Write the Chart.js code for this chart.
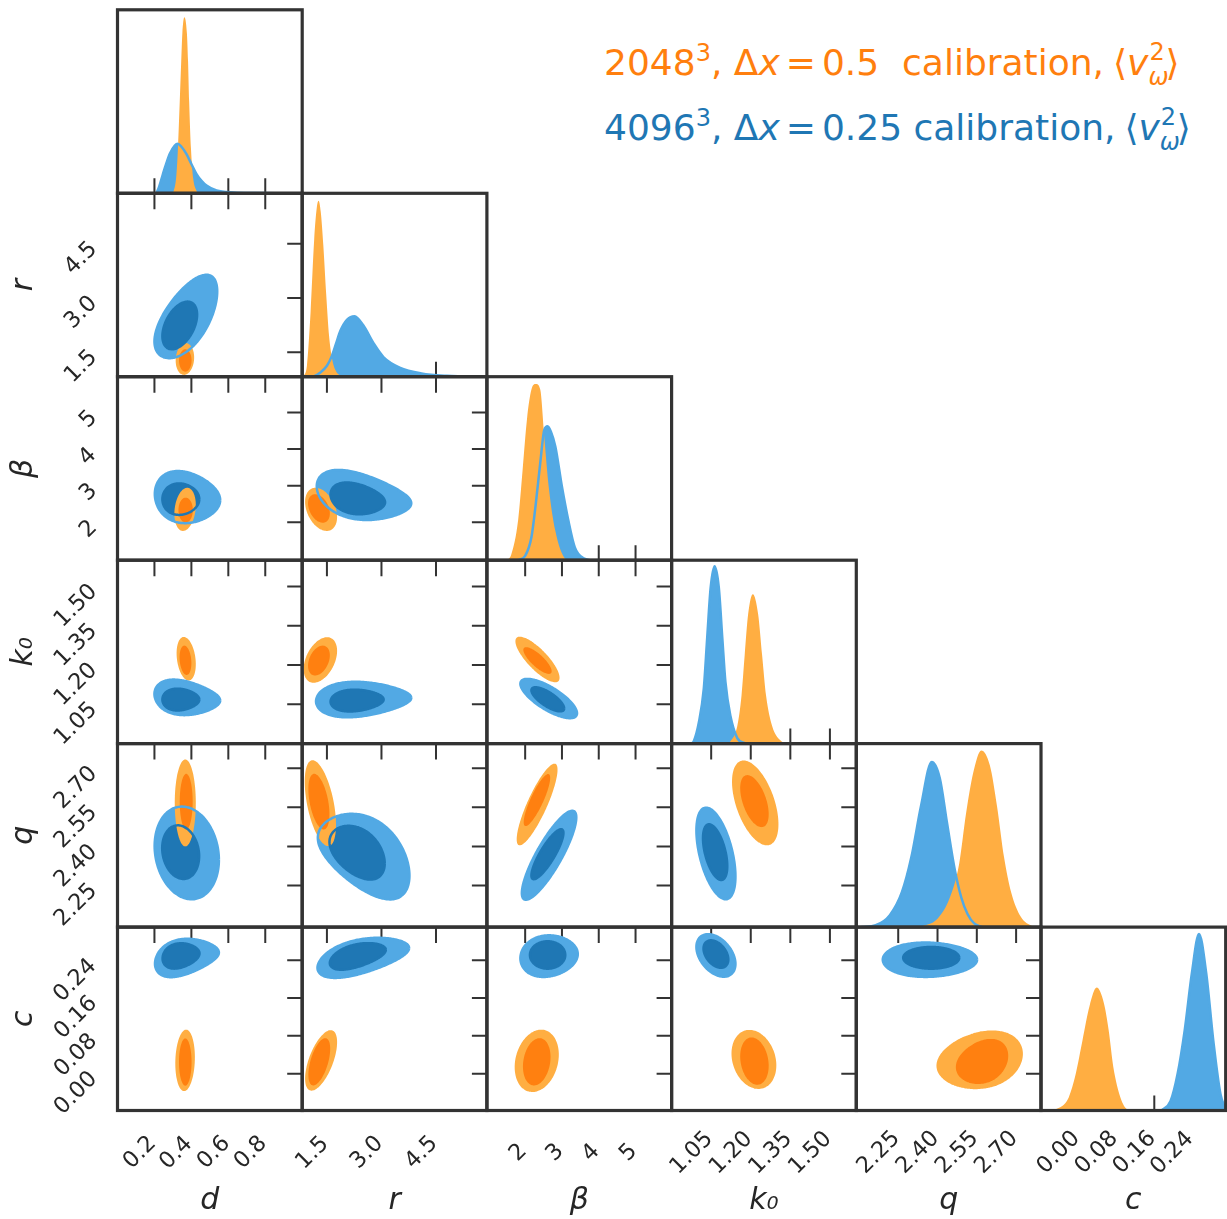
<!DOCTYPE html>
<html>
<head>
<meta charset="utf-8">
<script src="https://cdn.jsdelivr.net/npm/chart.js@4.4.0/dist/chart.umd.min.js"></script>
<style>
html, body { margin: 0; padding: 0; background: #ffffff; }
#wrap { position: relative; width: 1227px; height: 1219px; overflow: hidden; background: #ffffff; }
#wrap canvas { position: absolute; }
.leg { position: absolute; left: 604px; font-family: 'DejaVu Sans'; font-size: 36px; line-height: 36px; white-space: pre; }
.leg i { font-style: italic; }
.sup { font-size: 24px; line-height: 0; position: relative; top: -14px; }
.eq { margin: 0 6px; }
.lang { margin-left: 9px; }
.st { display: inline-block; position: relative; width: 17px; height: 0; line-height: 0; }
.s2 { position: absolute; left: 1px; top: -23px; font-size: 24px; line-height: 0; font-style: normal; }
.sw { position: absolute; left: 0px; top: 2px; font-size: 24px; line-height: 0; font-style: italic; }
</style>
</head>
<body>
<div id="wrap">
  <div class="leg" style="top:44.5px;color:#ff7f0e">2048<span class="sup">3</span>, Δ<i>x</i><span class="eq">=</span>0.5  calibration,<span class="lang">⟨</span><i>v</i><span class="st"><span class="s2">2</span><span class="sw">ω</span></span>⟩</div>
  <div class="leg" style="top:109.5px;color:#1f77b4">4096<span class="sup">3</span>, Δ<i>x</i><span class="eq">=</span>0.25 calibration,<span class="lang">⟨</span><i>v</i><span class="st"><span class="s2">2</span><span class="sw">ω</span></span>⟩</div>
</div>
<script>
// ===================== DATA =====================
const paramKeys   = ['d', 'r', 'beta', 'k0', 'q', 'c'];
const axisTitles  = ['d', 'r', 'β', 'k₀', 'q', 'c'];
const axisMin     = [0.0, 0.82, 0.96, 0.90, 2.09, -0.078];
const axisMax     = [1.0, 5.90, 5.98, 1.60, 2.795, 0.31];
const tickValues  = [[0.2, 0.4, 0.6, 0.8], [1.5, 3.0, 4.5], [2, 3, 4, 5], [1.05, 1.20, 1.35, 1.50], [2.25, 2.40, 2.55, 2.70], [0.00, 0.08, 0.16, 0.24]];
const tickLabels  = [['0.2', '0.4', '0.6', '0.8'], ['1.5', '3.0', '4.5'], ['2', '3', '4', '5'], ['1.05', '1.20', '1.35', '1.50'], ['2.25', '2.40', '2.55', '2.70'], ['0.00', '0.08', '0.16', '0.24']];

// 1D marginals (x values, relative heights as fraction of panel height)
const d_orange_x = [0.295, 0.305, 0.318, 0.328, 0.337, 0.345, 0.351, 0.362, 0.376, 0.382, 0.388, 0.398, 0.41, 0.427, 0.44];
const d_orange_h = [0, 0.015, 0.09, 0.26, 0.5, 0.72, 0.87, 0.96, 0.87, 0.72, 0.5, 0.24, 0.08, 0.015, 0];
const d_blue_x   = [0.21, 0.225, 0.246, 0.265, 0.283, 0.31, 0.326, 0.345, 0.373, 0.40, 0.428, 0.455, 0.482, 0.536, 0.627, 0.75, 0.9, 1.0];
const d_blue_h   = [0, 0.035, 0.105, 0.165, 0.215, 0.26, 0.27, 0.255, 0.215, 0.16, 0.105, 0.068, 0.042, 0.015, 0.004, 0.001, 0.0003, 0];

const r_orange_x = [0.85, 0.95, 1.05, 1.15, 1.22, 1.27, 1.33, 1.40, 1.48, 1.56, 1.65, 1.75, 1.9, 2.0];
const r_orange_h = [0.0, 0.06, 0.35, 0.75, 0.92, 0.96, 0.9, 0.72, 0.45, 0.22, 0.09, 0.03, 0.005, 0];
const r_blue_x   = [1.05, 1.15, 1.3, 1.5, 1.64, 1.75, 1.87, 2.05, 2.26, 2.5, 2.79, 3.06, 3.5, 4.1, 4.8, 5.9];
const r_blue_h   = [0, 0.003, 0.02, 0.06, 0.115, 0.18, 0.25, 0.31, 0.33, 0.28, 0.18, 0.106, 0.05, 0.018, 0.005, 0];

const beta_orange_x = [1.5, 1.62, 1.81, 1.93, 2.05, 2.17, 2.29, 2.41, 2.52, 2.64, 2.82, 3.06, 3.2];
const beta_orange_h = [0, 0.03, 0.22, 0.49, 0.77, 0.93, 0.96, 0.93, 0.67, 0.40, 0.16, 0.015, 0];
const beta_blue_x   = [1.8, 2.0, 2.17, 2.29, 2.41, 2.52, 2.61, 2.7, 2.82, 3.0, 3.17, 3.35, 3.59, 3.8];
const beta_blue_h   = [0, 0.024, 0.125, 0.31, 0.53, 0.71, 0.73, 0.70, 0.62, 0.40, 0.22, 0.07, 0.01, 0];

const k0_orange_x = [1.11, 1.123, 1.149, 1.165, 1.177, 1.19, 1.208, 1.228, 1.243, 1.258, 1.281, 1.312, 1.344];
const k0_orange_h = [0, 0.013, 0.096, 0.262, 0.483, 0.705, 0.815, 0.705, 0.483, 0.262, 0.096, 0.018, 0];
const k0_blue_x   = [0.975, 0.984, 1.003, 1.022, 1.035, 1.048, 1.063, 1.079, 1.092, 1.104, 1.123, 1.149, 1.18];
const k0_blue_h   = [0, 0.013, 0.114, 0.30, 0.58, 0.85, 0.967, 0.85, 0.58, 0.336, 0.15, 0.03, 0];

const q_orange_x = [2.33, 2.40, 2.446, 2.482, 2.509, 2.536, 2.567, 2.60, 2.627, 2.654, 2.681, 2.718, 2.763, 2.78];
const q_orange_h = [0, 0.046, 0.157, 0.34, 0.62, 0.84, 0.963, 0.88, 0.66, 0.38, 0.19, 0.056, 0.005, 0];
const q_blue_x   = [2.11, 2.164, 2.218, 2.264, 2.30, 2.337, 2.378, 2.409, 2.436, 2.465, 2.491, 2.515, 2.54, 2.57];
const q_blue_h   = [0, 0.01, 0.065, 0.19, 0.38, 0.66, 0.90, 0.81, 0.57, 0.32, 0.16, 0.07, 0.02, 0];

const c_orange_x = [-0.07, -0.04, -0.02, -0.005, 0.009, 0.024, 0.039, 0.054, 0.064, 0.074, 0.089, 0.104, 0.115];
const c_orange_h = [0, 0.015, 0.07, 0.2, 0.38, 0.57, 0.67, 0.586, 0.44, 0.236, 0.07, 0.005, 0];
const c_blue_x   = [0.175, 0.194, 0.209, 0.224, 0.239, 0.254, 0.269, 0.284, 0.299, 0.31];
const c_blue_h   = [0, 0.05, 0.2, 0.44, 0.75, 0.963, 0.75, 0.38, 0.09, 0.005];

// 2D credible regions:
// [rowParam, colParam, centreX, centreY, halfWidthX, halfWidthY, correlation, taper(left/right asymmetry)]
const blueOuter = [
  ['r', 'd', 0.37, 2.42, 0.17, 1.21, 0.6, 0.1],
  ['beta', 'd', 0.379, 2.67, 0.177, 0.77, -0.12, -0.2],
  ['k0', 'd', 0.378, 1.073, 0.178, 0.075, -0.19, -0.3],
  ['q', 'd', 0.375, 2.375, 0.174, 0.178, -0.15, 0],
  ['c', 'd', 0.376, 0.248, 0.173, 0.045, 0.3, -0.3],
  ['beta', 'r', 2.52, 2.68, 1.3, 0.76, -0.35, -0.3],
  ['k0', 'r', 2.51, 1.07, 1.31, 0.075, 0.1, -0.3],
  ['q', 'r', 2.51, 2.375, 1.26, 0.178, -0.45, 0.2],
  ['c', 'r', 2.5, 0.249, 1.26, 0.046, 0.5, -0.2],
  ['k0', 'beta', 2.64, 1.072, 0.77, 0.075, -0.75, 0],
  ['q', 'beta', 2.65, 2.366, 0.74, 0.171, 0.85, 0],
  ['c', 'beta', 2.65, 0.249, 0.78, 0.046, 0.1, -0.1],
  ['q', 'k0', 1.068, 2.373, 0.074, 0.176, -0.5, 0],
  ['c', 'k0', 1.068, 0.25, 0.074, 0.045, -0.4, 0],
  ['c', 'q', 2.371, 0.241, 0.18, 0.038, 0.0, -0.1]
];
const blueInner = [
  ['r', 'd', 0.337, 2.24, 0.094, 0.66, 0.45, 0],
  ['beta', 'd', 0.343, 2.63, 0.1, 0.45, 0, -0.1],
  ['k0', 'd', 0.343, 1.068, 0.1, 0.045, 0, -0.2],
  ['q', 'd', 0.342, 2.378, 0.1, 0.103, -0.15, 0],
  ['c', 'd', 0.344, 0.25, 0.1, 0.029, 0.2, -0.2],
  ['beta', 'r', 2.35, 2.63, 0.75, 0.47, -0.25, -0.2],
  ['k0', 'r', 2.33, 1.065, 0.73, 0.045, 0.1, -0.2],
  ['q', 'r', 2.33, 2.38, 0.76, 0.108, -0.4, 0.1],
  ['c', 'r', 2.35, 0.25, 0.77, 0.03, 0.5, -0.15],
  ['k0', 'beta', 2.615, 1.069, 0.445, 0.046, -0.75, 0],
  ['q', 'beta', 2.605, 2.37, 0.435, 0.096, 0.85, 0],
  ['c', 'beta', 2.61, 0.251, 0.48, 0.029, 0, 0],
  ['q', 'k0', 1.065, 2.378, 0.046, 0.107, -0.5, 0],
  ['c', 'k0', 1.068, 0.253, 0.047, 0.029, -0.4, 0],
  ['c', 'q', 2.376, 0.245, 0.107, 0.023, 0, 0]
];
const orangeOuter = [
  ['r', 'd', 0.365, 1.31, 0.05, 0.44, 0.1, 0],
  ['beta', 'd', 0.366, 2.35, 0.058, 0.59, 0.2, 0],
  ['k0', 'd', 0.372, 1.224, 0.052, 0.083, -0.25, 0],
  ['q', 'd', 0.367, 2.567, 0.057, 0.167, 0, 0],
  ['c', 'd', 0.366, 0.028, 0.053, 0.065, 0.1, 0],
  ['beta', 'r', 1.34, 2.35, 0.44, 0.59, -0.35, 0],
  ['k0', 'r', 1.32, 1.219, 0.46, 0.087, 0.4, 0],
  ['q', 'r', 1.32, 2.566, 0.43, 0.165, -0.5, 0],
  ['c', 'r', 1.34, 0.028, 0.44, 0.064, 0.6, 0],
  ['k0', 'beta', 2.335, 1.221, 0.6, 0.087, -0.8, 0],
  ['q', 'beta', 2.325, 2.561, 0.555, 0.157, 0.85, 0],
  ['c', 'beta', 2.315, 0.027, 0.6, 0.066, 0.2, 0],
  ['q', 'k0', 1.217, 2.567, 0.088, 0.163, -0.5, 0],
  ['c', 'k0', 1.212, 0.03, 0.085, 0.0625, -0.2, 0],
  ['c', 'q', 2.561, 0.028, 0.165, 0.065, 0.2, 0.1]
];
const orangeInner = [
  ['r', 'd', 0.367, 1.27, 0.034, 0.31, 0, 0],
  ['beta', 'd', 0.369, 2.33, 0.039, 0.34, 0, 0],
  ['k0', 'd', 0.368, 1.218, 0.032, 0.056, -0.2, 0],
  ['q', 'd', 0.372, 2.572, 0.035, 0.107, 0, 0],
  ['c', 'd', 0.367, 0.0245, 0.034, 0.05, 0, 0],
  ['beta', 'r', 1.28, 2.375, 0.3, 0.39, -0.35, 0],
  ['k0', 'r', 1.28, 1.217, 0.3, 0.057, 0.35, 0],
  ['q', 'r', 1.28, 2.572, 0.29, 0.107, -0.45, 0],
  ['c', 'r', 1.29, 0.025, 0.3, 0.05, 0.55, 0],
  ['k0', 'beta', 2.335, 1.217, 0.385, 0.051, -0.8, 0],
  ['q', 'beta', 2.32, 2.578, 0.36, 0.1, 0.85, 0],
  ['c', 'beta', 2.315, 0.025, 0.375, 0.05, 0.2, 0],
  ['q', 'k0', 1.214, 2.574, 0.054, 0.1, -0.5, 0],
  ['c', 'k0', 1.214, 0.0265, 0.054, 0.05, -0.2, 0],
  ['c', 'q', 2.57, 0.0245, 0.1, 0.05, 0.25, 0.1]
];

// ===================== STYLE / LAYOUT =====================
const ORANGE_LIGHT = '#ffae42';
const ORANGE_DARK  = '#ff8010';
const BLUE_LIGHT   = '#52a9e4';
const BLUE_DARK    = '#1f77b4';
const FRAME = '#333333';
const TEXT  = '#262626';
const TICK_FONT_CSS = '22.5px "DejaVu Sans"';
const TITLE_FONT = { family: 'DejaVu Sans', size: 30, style: 'italic', weight: 'normal', lineHeight: 1.2 };
const colEdges = [117.5, 302.2, 486.9, 671.6, 856.3, 1041.0, 1225.7];
const rowEdges = [9.8, 193.3, 376.7, 560.2, 743.6, 927.1, 1110.5];
const PAGE_H = 1219;

const marginals = {
  d:    { ox: d_orange_x, oh: d_orange_h, bx: d_blue_x, bh: d_blue_h },
  r:    { ox: r_orange_x, oh: r_orange_h, bx: r_blue_x, bh: r_blue_h },
  beta: { ox: beta_orange_x, oh: beta_orange_h, bx: beta_blue_x, bh: beta_blue_h },
  k0:   { ox: k0_orange_x, oh: k0_orange_h, bx: k0_blue_x, bh: k0_blue_h },
  q:    { ox: q_orange_x, oh: q_orange_h, bx: q_blue_x, bh: q_blue_h },
  c:    { ox: c_orange_x, oh: c_orange_h, bx: c_blue_x, bh: c_blue_h }
};

function pairPts(xs, hs) { return xs.map((x, k) => ({ x: x, y: hs[k] })); }

function findRegion(list, rowKey, colKey) {
  return list.find(e => e[0] === rowKey && e[1] === colKey);
}
function regionPts(e) {
  const cx = e[2], cy = e[3], hx = e[4], hy = e[5], rho = e[6], taper = e[7] || 0;
  const s = Math.sqrt(1 - rho * rho);
  const norm = 1 + Math.abs(taper) / 2;
  const pts = [];
  const N = 120;
  for (let k = 0; k <= N; k++) {
    const t = 2 * Math.PI * k / N;
    const w = (1 + taper * Math.cos(t)) / norm;
    pts.push({ x: cx + hx * Math.cos(t), y: cy + hy * w * (rho * Math.cos(t) + s * Math.sin(t)) });
  }
  return pts;
}

// Rotated (45 deg) tick label, positioned by the ink bounding box of the rotated text.
// mode 'x': bbox right edge at refX, bbox vertical centre at refY
// mode 'y': bbox right edge at refX, bbox top at refY
function drawRotatedLabel(ctx, text, mode, refX, refY) {
  const m = ctx.measureText(text);
  const L = m.actualBoundingBoxLeft, R = m.actualBoundingBoxRight;
  const A = m.actualBoundingBoxAscent, D = m.actualBoundingBoxDescent;
  const c = Math.SQRT1_2;
  const ax = refX - c * (R + D);
  let ay;
  if (mode === 'x') ay = refY - 0.5 * c * (L + D - R - A);
  else ay = refY + c * (R + A);
  ctx.save();
  ctx.translate(ax, ay);
  ctx.rotate(-Math.PI / 4);
  ctx.fillText(text, 0, 0);
  ctx.restore();
}

const panelDeco = {
  id: 'panelDeco',
  beforeDatasetsDraw(chart, args, opts) {
    const ctx = chart.ctx, a = chart.chartArea;
    const xs = chart.scales.x, ys = chart.scales.y;
    ctx.save();
    ctx.strokeStyle = FRAME;
    ctx.lineWidth = 2;
    ctx.beginPath();
    if (opts.topTicks) {
      tickValues[opts.xp].forEach(v => { const px = xs.getPixelForValue(v); ctx.moveTo(px, a.top); ctx.lineTo(px, a.top + 16); });
    }
    if (opts.bottomTicks) {
      tickValues[opts.xp].forEach(v => { const px = xs.getPixelForValue(v); ctx.moveTo(px, a.bottom); ctx.lineTo(px, a.bottom - 15); });
    }
    if (opts.rightTicks) {
      tickValues[opts.yp].forEach(v => { const py = ys.getPixelForValue(v); ctx.moveTo(a.right, py); ctx.lineTo(a.right - 15, py); });
    }
    ctx.stroke();
    ctx.restore();
  },
  afterDatasetsDraw(chart) {
    const ctx = chart.ctx, a = chart.chartArea;
    ctx.save();
    ctx.strokeStyle = FRAME;
    ctx.lineWidth = 3.2;
    ctx.strokeRect(a.left, a.top, a.right - a.left, a.bottom - a.top);
    ctx.restore();
  },
  afterDraw(chart, args, opts) {
    const ctx = chart.ctx, a = chart.chartArea;
    const xs = chart.scales.x, ys = chart.scales.y;
    ctx.save();
    ctx.font = TICK_FONT_CSS;
    ctx.fillStyle = TEXT;
    ctx.textAlign = 'right';
    ctx.textBaseline = 'middle';
    if (opts.xLabels) {
      tickValues[opts.xp].forEach((v, k) => {
        drawRotatedLabel(ctx, tickLabels[opts.xp][k], 'x', xs.getPixelForValue(v) + 1.5, a.bottom + 40.5);
      });
    }
    if (opts.yLabels) {
      tickValues[opts.yp].forEach((v, k) => {
        drawRotatedLabel(ctx, tickLabels[opts.yp][k], 'y', a.left - 20.5, ys.getPixelForValue(v) - 5);
      });
    }
    ctx.restore();
  }
};

function axisCfg(p, show, pos, fitSize) {
  return {
    type: 'linear',
    position: pos,
    display: show,
    min: axisMin[p],
    max: axisMax[p],
    grid: { display: false, drawTicks: false },
    border: { display: false },
    ticks: { display: false },
    afterBuildTicks: s => { s.ticks = tickValues[p].map(v => ({ value: v })); },
    afterFit: s => {
      const size = show ? fitSize : 0;
      if (pos === 'left') s.width = size; else s.height = size;
      s.paddingLeft = 0; s.paddingRight = 0; s.paddingTop = 0; s.paddingBottom = 0;
    },
    title: {
      display: show,
      text: axisTitles[p],
      font: TITLE_FONT,
      color: TEXT,
      padding: pos === 'left' ? { top: 6, bottom: 0 } : { top: 0, bottom: 0 }
    }
  };
}

const wrap = document.getElementById('wrap');

function makePanel(i, j) {
  const M = 4;
  const hasY = (j === 0 && i > 0);
  const hasX = (i === 5);
  const cl = hasY ? 0 : Math.floor(colEdges[j]) - (hasX ? 40 : M);
  const ct = Math.floor(rowEdges[i]) - M;
  const cr = Math.ceil(colEdges[j + 1]) + M;
  const cb = hasX ? PAGE_H : Math.ceil(rowEdges[i + 1]) + (hasY ? 30 : M);
  const W = cr - cl, H = cb - ct;
  const canvas = document.createElement('canvas');
  canvas.width = W; canvas.height = H;
  canvas.style.left = cl + 'px'; canvas.style.top = ct + 'px';
  canvas.style.width = W + 'px'; canvas.style.height = H + 'px';
  wrap.appendChild(canvas);

  const padding = {
    left: hasY ? 0 : colEdges[j] - cl,
    top: rowEdges[i] - ct,
    right: cr - colEdges[j + 1],
    bottom: hasX ? 0 : cb - rowEdges[i + 1]
  };

  const datasets = [];
  let yScale;
  if (i === j) {
    const m = marginals[paramKeys[j]];
    const bluePts = pairPts(m.bx, m.bh);
    const orangePts = pairPts(m.ox, m.oh);
    const common = { pointRadius: 0, cubicInterpolationMode: 'monotone' };
    datasets.push(Object.assign({ data: bluePts, fill: 'origin', backgroundColor: BLUE_LIGHT, borderColor: 'rgba(0,0,0,0)', borderWidth: 0, order: 3 }, common));
    datasets.push(Object.assign({ data: orangePts, fill: 'origin', backgroundColor: ORANGE_LIGHT, borderColor: 'rgba(0,0,0,0)', borderWidth: 0, order: 2 }, common));
    datasets.push(Object.assign({ data: bluePts, fill: false, borderColor: BLUE_LIGHT, borderWidth: 2.5, order: 1 }, common));
    yScale = { type: 'linear', display: false, min: 0, max: 1, grid: { display: false } };
  } else {
    const rk = paramKeys[i], ck = paramKeys[j];
    const bo = regionPts(findRegion(blueOuter, rk, ck));
    const bi = regionPts(findRegion(blueInner, rk, ck));
    const oo = regionPts(findRegion(orangeOuter, rk, ck));
    const oi = regionPts(findRegion(orangeInner, rk, ck));
    const fillDs = (pts, col, ord) => ({ data: pts, fill: 'shape', backgroundColor: col, borderColor: 'rgba(0,0,0,0)', borderWidth: 0, pointRadius: 0, tension: 0.1, order: ord });
    const lineDs = (pts, col, ord) => ({ data: pts, fill: false, borderColor: col, borderWidth: 2.5, pointRadius: 0, tension: 0.1, order: ord });
    datasets.push(fillDs(bo, BLUE_LIGHT, 6));
    datasets.push(fillDs(bi, BLUE_DARK, 5));
    datasets.push(fillDs(oo, ORANGE_LIGHT, 4));
    datasets.push(fillDs(oi, ORANGE_DARK, 3));
    datasets.push(lineDs(bo, BLUE_LIGHT, 2));
    datasets.push(lineDs(bi, BLUE_DARK, 1));
    yScale = axisCfg(i, hasY, 'left', colEdges[0]);
  }

  new Chart(canvas, {
    type: 'line',
    data: { datasets: datasets },
    options: {
      responsive: false,
      animation: false,
      events: [],
      layout: { padding: padding },
      plugins: {
        legend: { display: false },
        tooltip: { enabled: false },
        panelDeco: { xp: j, yp: i, topTicks: i !== j, rightTicks: i !== j, bottomTicks: i === j, xLabels: hasX, yLabels: hasY }
      },
      scales: {
        x: axisCfg(j, hasX, 'bottom', PAGE_H - rowEdges[6]),
        y: yScale
      }
    },
    plugins: [panelDeco]
  });
}

for (let i = 0; i < 6; i++) {
  for (let j = 0; j <= i; j++) makePanel(i, j);
}
</script>
</body>
</html>
